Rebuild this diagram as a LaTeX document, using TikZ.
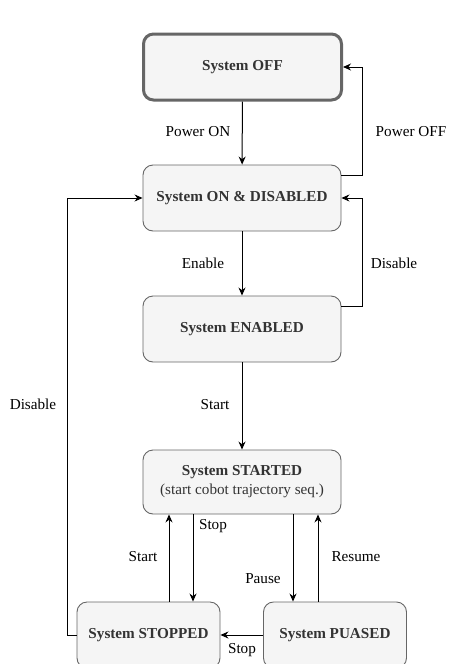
\documentclass[tikz,border=0pt]{standalone}
\usepackage{fontspec}
\setmainfont{Liberation Serif}
\usetikzlibrary{arrows.meta,positioning}

\definecolor{boxfill}{HTML}{F5F5F5}
\definecolor{boxline}{HTML}{666666}
\definecolor{boxtext}{HTML}{333333}

\begin{document}
\begin{tikzpicture}[x=1pt,y=-1pt,
  state/.style={draw=boxline, fill=boxfill, line width=0.9pt, rounded corners=10pt,
    minimum width=198pt, minimum height=66pt, inner sep=0pt,
    font=\fontsize{15.2}{19}\selectfont\bfseries, text=boxtext, align=center},
  smallstate/.style={state, minimum width=143pt},
  arr/.style={draw=black, line width=1pt, -{Stealth[length=8pt,width=7pt]}},
  lbl/.style={font=\fontsize{15.2}{18}\selectfont, text=black, inner sep=0pt}]

\useasboundingbox (0,0) rectangle (449,664);

% states
\node[state, line width=3pt] (OFF) at (242.5,67) {System OFF};
\node[state] (ON)  at (242,198) {System ON \& DISABLED};
\node[state] (EN)  at (242,329) {System ENABLED};
\node[state, minimum height=64pt] (ST) at (242,482)
  {System STARTED\\{\mdseries (start cobot trajectory seq.)}};
\node[smallstate] (SP) at (148.5,635) {System STOPPED};
\node[smallstate] (PA) at (335,635) {System PUASED};

% power on / off
\draw[arr] (OFF) -- (ON);
\node[lbl] (lPon) at (198,132) {Power ON};
\coordinate (offR) at (362,0);
\draw[arr] ([yshift=-11pt]ON.north east) -| (offR |- OFF.east) -- (OFF.east);
\node[lbl] (lPoff) at (411,132) {Power OFF};

% enable / disable
\draw[arr] (ON) -- (EN);
\node[lbl] (lEn) at (203,263) {Enable};
\draw[arr] ([yshift=-11pt]EN.north east) -| (offR |- ON.east) -- (ON.east);
\node[lbl] (lDis) at (394,263) {Disable};

% start
\draw[arr] (EN) -- (ST);
\node[lbl] (lSt) at (215,405) {Start};

% started <-> stopped
\draw[arr] ([xshift=-73pt]ST.south |- SP.north) -- ([xshift=-73pt]ST.south);
\node[lbl] (lSt2) at (143,557) {Start};
\draw[arr] ([xshift=-49pt]ST.south) -- ([xshift=-49pt]ST.south |- SP.north);
\node[lbl] (lStop) at (213,526) {Stop};

% started <-> paused
\draw[arr] ([xshift=51pt]ST.south) -- ([xshift=51pt]ST.south |- PA.north);
\node[lbl] (lPa) at (263,579) {Pause};
\draw[arr] ([xshift=76pt]ST.south |- PA.north) -- ([xshift=76pt]ST.south);
\node[lbl] (lRe) at (356,557) {Resume};

% paused -> stopped
\draw[arr] (PA.west) -- (SP.east);
\node[lbl] (lStop2) at (242,650) {Stop};

% stopped -> on & disabled
\coordinate (disL) at (67,0);
\draw[arr] (SP.west) -- (disL |- SP.west) -- (disL |- ON.west) -- (ON.west);
\node[lbl] (lDis2) at (33,404) {Disable};
\end{tikzpicture}
\end{document}
